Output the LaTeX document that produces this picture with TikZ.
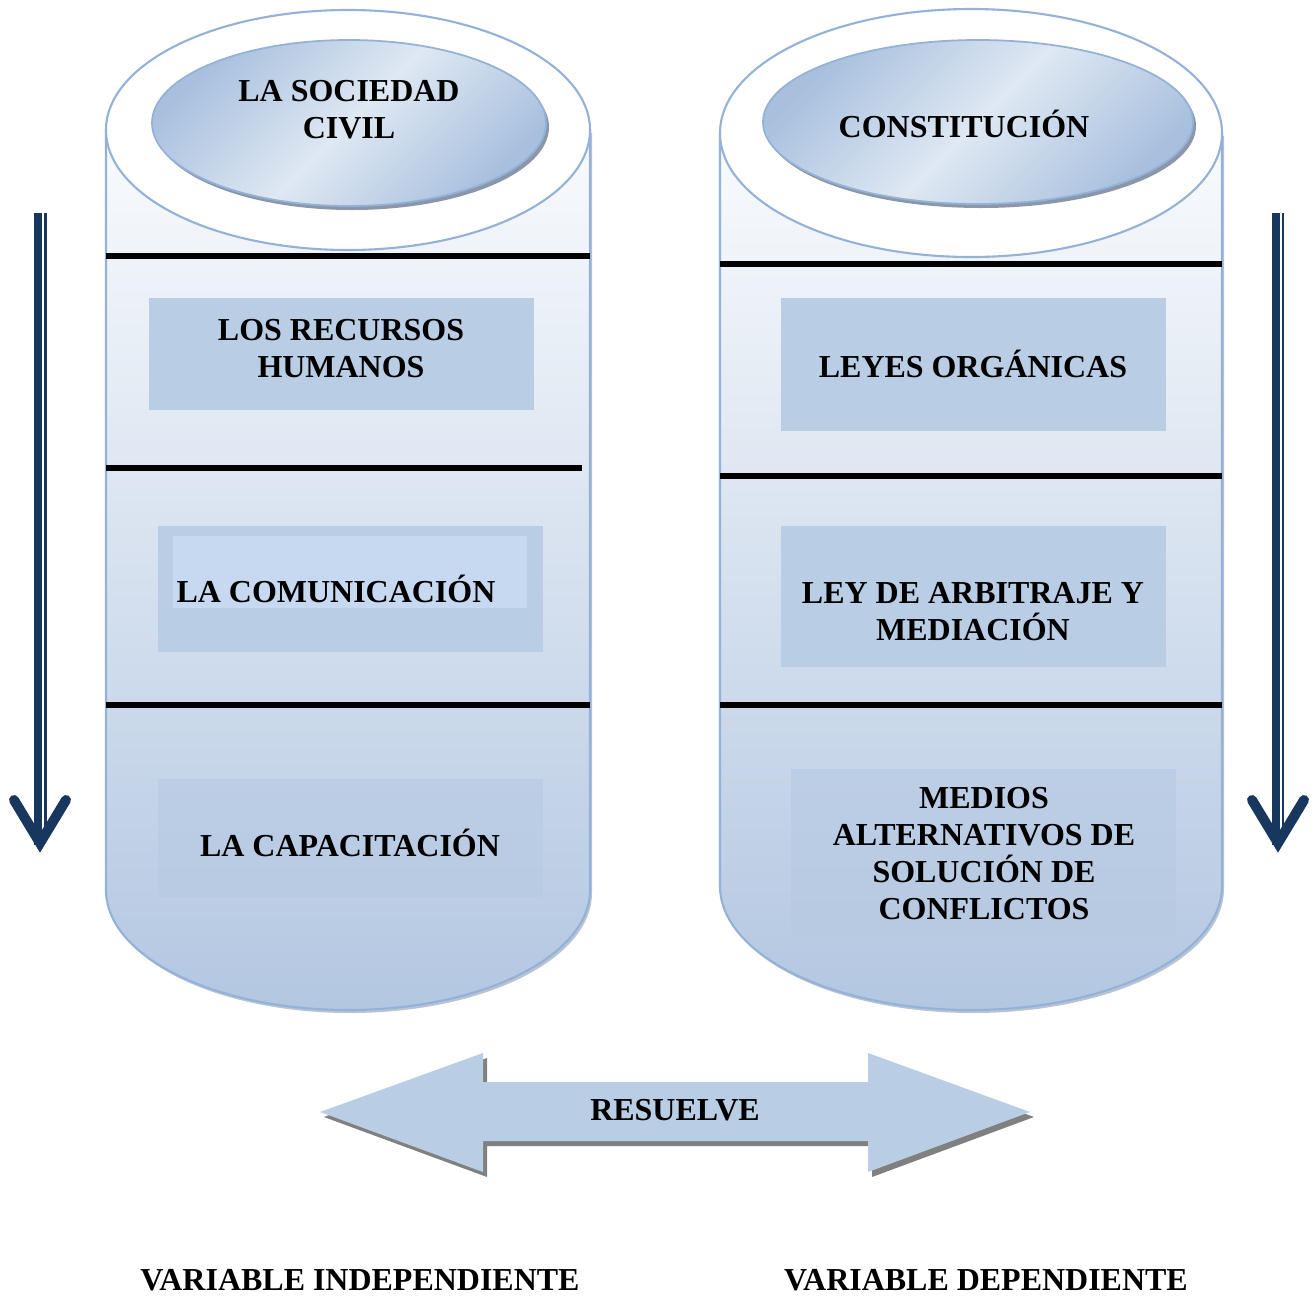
\documentclass[tikz,border=0pt]{standalone}
\usepackage{fontspec}
\setmainfont{Liberation Serif}
\definecolor{cyledge}{HTML}{94B2D7}
\definecolor{boxfill}{HTML}{B9CDE5}
\definecolor{boxlight}{HTML}{C6D9F1}
\definecolor{navy}{HTML}{17375E}
\definecolor{cyltop}{HTML}{F9FBFD}
\definecolor{cylbot}{HTML}{B3C7E1}
\definecolor{elllight}{HTML}{DFE8F3}
\definecolor{elldark}{HTML}{A8C0DE}
\definecolor{ellshadow}{HTML}{8A97AA}
\definecolor{cylshadow}{HTML}{9AAAC2}
\definecolor{faintbox}{HTML}{B5C9E2}
\begin{document}
\begin{tikzpicture}[x=0.02cm,y=-0.02cm,
  lbl/.style={font=\fontsize{18.2}{21}\selectfont\bfseries, align=center, inner sep=0pt, anchor=base, text=black},
  bar/.style={line width=0.12cm, black},
  cyl/.style={draw=cyledge, line width=1.2pt},
  boxbg/.style={fill=boxfill},
  faint/.style={fill=faintbox, fill opacity=0.55},
  ellshade/.style={left color=elldark, right color=elldark, middle color=elllight, shading angle=45, draw=cyledge, line width=1pt},
  vshaft/.style={navy, line width=0.16cm},
  vthin/.style={navy, line width=0.055cm},
  vhead/.style={navy, line width=0.2cm, line cap=round, line join=miter},
  arrowshadow/.style={fill=black!50},
  arrowbody/.style={fill=boxfill}
]
\useasboundingbox[fill=white] (0,0) rectangle (1316,1299);

% ---------- left cylinder ----------
\fill[cylshadow, opacity=0.7, shift={(2,3)}] (106,130) -- (106,890) arc[start angle=180, end angle=0, x radius=242, y radius=120] -- (590,130) -- cycle;
\shade[top color=cyltop, bottom color=cylbot] (106,130) -- (106,890) arc[start angle=180, end angle=0, x radius=242, y radius=120] -- (590,130) -- cycle;
\draw[cyl] (106,130) -- (106,890) arc[start angle=180, end angle=0, x radius=242, y radius=120] -- (590,130);
\draw[cyl, fill=white] (348,130) ellipse [x radius=242, y radius=120];

% ---------- right cylinder ----------
\fill[cylshadow, opacity=0.7, shift={(2,3)}] (720,133) -- (720,886) arc[start angle=180, end angle=0, x radius=251, y radius=124] -- (1222,133) -- cycle;
\shade[top color=cyltop, bottom color=cylbot] (720,133) -- (720,886) arc[start angle=180, end angle=0, x radius=251, y radius=124] -- (1222,133) -- cycle;
\draw[cyl] (720,133) -- (720,886) arc[start angle=180, end angle=0, x radius=251, y radius=124] -- (1222,133);
\draw[cyl, fill=white] (971,133) ellipse [x radius=251, y radius=124];

% ---------- inner ellipses ----------
\fill[ellshadow] (352,127) ellipse [x radius=197, y radius=83];
\shade[ellshade] (349,123) ellipse [x radius=197, y radius=83];
\fill[ellshadow] (981,126) ellipse [x radius=215, y radius=82];
\shade[ellshade] (978,122) ellipse [x radius=215, y radius=82];

% ---------- separator bars ----------
\draw[bar] (106,256) -- (590,256);
\draw[bar] (106,468) -- (582,468);
\draw[bar] (106,705) -- (590,705);
\draw[bar] (720,263.5) -- (1222,263.5);
\draw[bar] (720,476) -- (1222,476);
\draw[bar] (720,705) -- (1222,705);

% ---------- boxes ----------
\fill[boxbg] (149,298) rectangle (534,410);
\fill[boxbg] (158,526) rectangle (543,652);
\fill[boxlight] (173,536) rectangle (527,608);
\fill[faint] (158,779) rectangle (543,897);
\fill[boxbg] (781,298) rectangle (1166,431);
\fill[boxbg] (781,526) rectangle (1166,667);
\fill[faint] (791,769) rectangle (1176,935);

% ---------- texts (base = last line) ----------
\node[lbl] (soc) at (349,138) {LA SOCIEDAD\\CIVIL};
\node[lbl] (con) at (964,137) {CONSTITUCIÓN};
\node[lbl] (rec) at (341,377) {LOS RECURSOS\\HUMANOS};
\node[lbl] (com) at (336,602) {LA COMUNICACIÓN};
\node[lbl] (cap) at (350,856) {LA CAPACITACIÓN};
\node[lbl] (ley) at (973,377) {LEYES ORGÁNICAS};
\node[lbl] (arb) at (973,640) {LEY DE ARBITRAJE Y\\MEDIACIÓN};
\node[lbl] (med) at (984,919) {MEDIOS\\ALTERNATIVOS DE\\SOLUCIÓN DE\\CONFLICTOS};

% ---------- double arrow ----------
\def\dblarrow{(320,1112) -- (483,1053) -- (483,1082) -- (868,1082) -- (868,1053) -- (1030,1112) -- (868,1172) -- (868,1141) -- (483,1141) -- (483,1172) -- cycle}
\fill[arrowshadow, shift={(4,5)}] \dblarrow;
\fill[arrowbody] \dblarrow;
\node[lbl] (res) at (675,1120) {RESUELVE};

% ---------- vertical arrows ----------
\coordinate (la) at (38.3,213);
\coordinate (lb) at (38.3,845);
\coordinate (lc) at (45.7,213);
\coordinate (ld) at (45.7,835);
\coordinate (lh1) at (14,800);
\coordinate (lt) at (40,843);
\coordinate (lh2) at (66,800);
\draw[vshaft] (la) -- (lb);
\draw[vthin] (lc) -- (ld);
\draw[vhead] (lh1) -- (lt) -- (lh2);

\coordinate (ra) at (1275.5,213);
\coordinate (rb) at (1275.5,845);
\coordinate (rc) at (1283,213);
\coordinate (rd) at (1283,835);
\coordinate (rh1) at (1252,800);
\coordinate (rt) at (1278,843);
\coordinate (rh2) at (1304,800);
\draw[vshaft] (ra) -- (rb);
\draw[vthin] (rc) -- (rd);
\draw[vhead] (rh1) -- (rt) -- (rh2);

% ---------- bottom labels ----------
\node[lbl] (vi) at (360,1290) {VARIABLE INDEPENDIENTE};
\node[lbl] (vd) at (986,1290) {VARIABLE DEPENDIENTE};
\end{tikzpicture}
\end{document}
